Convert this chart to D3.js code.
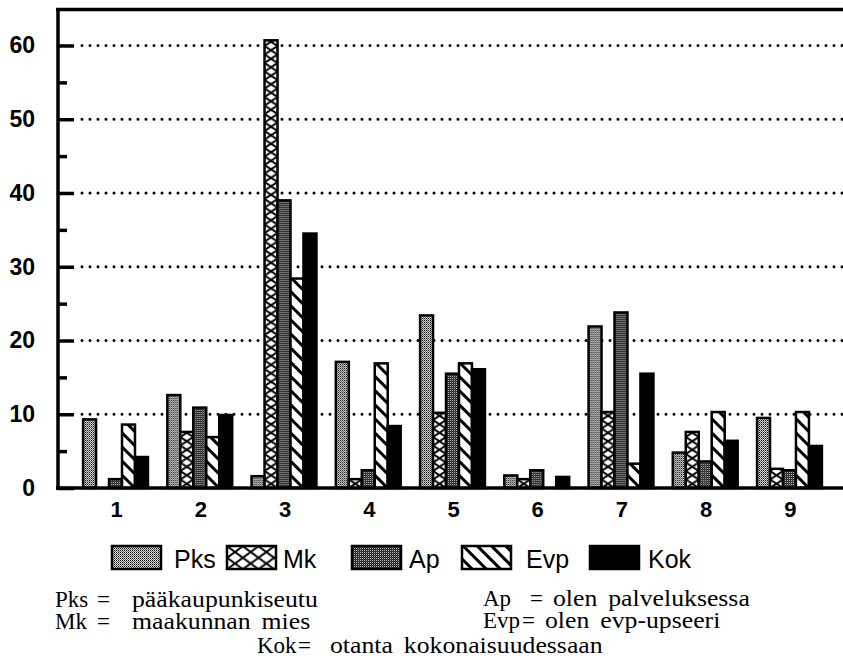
<!DOCTYPE html>
<html>
<head>
<meta charset="utf-8">
<script src="https://cdn.jsdelivr.net/npm/d3@7"></script>
<style>
  body { margin: 0; background: #fff; }
  svg { display: block; }
  .sans { font-family: 'Liberation Sans', Arial, sans-serif; fill: #000; }
  .serif { font-family: 'Liberation Serif', 'Times New Roman', serif; fill: #000; }
</style>
</head>
<body>
<script>
// data
const categories = ['1', '2', '3', '4', '5', '6', '7', '8', '9'];
const seriesNames = ['Pks', 'Mk', 'Ap', 'Evp', 'Kok'];
const pksValues = [9.3, 12.6, 1.6, 17.1, 23.4, 1.7, 21.9, 4.8, 9.5];
const mkValues = [0, 7.6, 60.7, 1.2, 10.2, 1.2, 10.3, 7.6, 2.6];
const apValues = [1.2, 10.9, 39.0, 2.4, 15.5, 2.4, 23.8, 3.6, 2.4];
const evpValues = [8.6, 6.9, 28.4, 16.9, 16.9, 0, 3.3, 10.3, 10.3];
const kokValues = [4.2, 9.9, 34.5, 8.4, 16.1, 1.5, 15.5, 6.4, 5.7];
const yTicks = [0, 10, 20, 30, 40, 50, 60];
const yMinorTicks = [5, 15, 25, 35, 45, 55];
const noteKeys = ['Pks', 'Mk', 'Ap', 'Evp', 'Kok'];
const noteTexts = ['pääkaupunkiseutu', 'maakunnan mies', 'olen palveluksessa',
  'olen evp-upseeri', 'otanta kokonaisuudessaan'];

const seriesValues = [pksValues, mkValues, apValues, evpValues, kokValues];

const W = 843;
const H = 665;

const svg = d3.select('body')
  .append('svg')
  .attr('width', W)
  .attr('height', H);

const defs = svg.append('defs');

const x = d3.scaleBand()
  .domain(categories)
  .range([73.4, 831.6])
  .paddingInner(0.23)
  .paddingOuter(0.115);

const xs = d3.scaleBand()
  .domain(seriesNames)
  .range([0, x.bandwidth()]);

const y = d3.scaleLinear()
  .domain([0, 65])
  .range([488, 8.6]);

// fill patterns
const stipple = (id, bg, c1, c2) => {
  const p = defs.append('pattern')
    .attr('id', id)
    .attr('patternUnits', 'userSpaceOnUse')
    .attr('width', 2)
    .attr('height', 2);
  p.append('rect').attr('width', 2).attr('height', 2).attr('fill', bg);
  p.append('rect').attr('width', 1).attr('height', 1).attr('fill', c1);
  p.append('rect').attr('x', 1).attr('y', 1).attr('width', 1).attr('height', 1).attr('fill', c2);
};
stipple('pat-pks', '#ddd', '#000', '#666');
stipple('pat-ap', '#222', '#bbb', '#444');

const crossHatch = (id, x0, y0, w, h) => {
  const p = defs.append('pattern')
    .attr('id', id)
    .attr('patternUnits', 'userSpaceOnUse')
    .attr('x', x0)
    .attr('y', y0)
    .attr('width', w)
    .attr('height', h);
  p.append('rect').attr('width', w).attr('height', h).attr('fill', '#fff');
  p.append('path')
    .attr('d', `M0,0L${w},${h}M${w},0L0,${h}`)
    .attr('stroke', '#000')
    .attr('stroke-width', 2);
};
crossHatch('pat-mk', xs('Mk'), y(0), xs.bandwidth(), 8.5);
crossHatch('pat-mk-legend', 0, 0, 47 / 3, 11.5);

const evp = defs.append('pattern')
  .attr('id', 'pat-evp')
  .attr('patternUnits', 'userSpaceOnUse')
  .attr('width', 10)
  .attr('height', 10)
  .attr('patternTransform', 'rotate(-45)');
evp.append('rect').attr('width', 10).attr('height', 10).attr('fill', '#fff');
evp.append('rect').attr('width', 3).attr('height', 10).attr('fill', '#000');

const fills = {
  Pks: 'url(#pat-pks)', Mk: 'url(#pat-mk)', Ap: 'url(#pat-ap)', Evp: 'url(#pat-evp)', Kok: '#000',
};

// dotted grid
svg.append('g')
  .selectAll('line')
  .data(yTicks.filter((d) => d > 0))
  .join('line')
  .attr('x1', 82)
  .attr('x2', W)
  .attr('y1', (d) => y(d))
  .attr('y2', (d) => y(d))
  .attr('stroke', '#000')
  .attr('stroke-width', 3)
  .attr('stroke-linecap', 'round')
  .attr('stroke-dasharray', '0,8');

// bars
const rows = categories.map((c, i) => ({
  cat: c,
  values: seriesNames.map((s, k) => ({ s, v: seriesValues[k][i] })),
}));

const groups = svg.append('g')
  .selectAll('g')
  .data(rows)
  .join('g')
  .attr('transform', (d) => `translate(${x(d.cat)},0)`);

groups.selectAll('rect')
  .data((d) => d.values.filter((e) => e.v > 0))
  .join('rect')
  .attr('x', (d) => xs(d.s))
  .attr('y', (d) => y(d.v))
  .attr('width', xs.bandwidth())
  .attr('height', (d) => y(0) - y(d.v))
  .attr('fill', (d) => fills[d.s])
  .attr('stroke', '#000')
  .attr('stroke-width', 2.5);

// frame lines
const frame = svg.append('g').attr('stroke', '#000').attr('stroke-width', 3.5);
frame.append('line').attr('x1', 58).attr('x2', 58).attr('y1', 8).attr('y2', 490);
frame.append('line').attr('x1', 56).attr('x2', W).attr('y1', 9.5).attr('y2', 9.5);
frame.append('line').attr('x1', 56).attr('x2', W).attr('y1', y(0)).attr('y2', y(0));

// y axis, ticks pointing inward
const yAxis = svg.append('g')
  .attr('transform', 'translate(58,0)')
  .call(d3.axisLeft(y).tickValues(yTicks).tickSizeInner(-16).tickSizeOuter(0).tickPadding(23));
yAxis.select('.domain').remove();
yAxis.selectAll('line').attr('stroke-width', 3.5);
yAxis.selectAll('text')
  .attr('class', 'sans')
  .style('font-size', '23px')
  .style('font-weight', 'bold');

const yMinor = svg.append('g')
  .attr('transform', 'translate(58,0)')
  .call(d3.axisLeft(y).tickValues(yMinorTicks).tickSizeInner(-9).tickSizeOuter(0).tickFormat(''));
yMinor.select('.domain').remove();
yMinor.selectAll('line').attr('stroke-width', 3.5);

// x axis labels
const xAxis = svg.append('g')
  .attr('transform', `translate(1,${y(0)})`)
  .call(d3.axisBottom(x).tickSize(0).tickPadding(13));
xAxis.select('.domain').remove();
xAxis.selectAll('text')
  .attr('class', 'sans')
  .style('font-size', '22px')
  .style('font-weight', 'bold');

// legend
const legendPos = [
  { sx: 112, tx: 174 }, { sx: 227, tx: 283 }, { sx: 352, tx: 409 },
  { sx: 462, tx: 526 }, { sx: 590, tx: 648 },
];
const legend = svg.append('g')
  .selectAll('g')
  .data(seriesNames)
  .join('g');

legend.append('rect')
  .attr('x', (d, i) => legendPos[i].sx)
  .attr('y', 546)
  .attr('width', 49)
  .attr('height', 23)
  .attr('fill', (d) => (d === 'Mk' ? 'url(#pat-mk-legend)' : fills[d]))
  .attr('stroke', '#000')
  .attr('stroke-width', 2.5);

legend.append('text')
  .attr('class', 'sans')
  .attr('x', (d, i) => legendPos[i].tx)
  .attr('y', 568)
  .style('font-size', '25px')
  .text((d) => d);

// abbreviations below the legend
const notePos = [
  { x: 55, eq: 97, tx: 132, y: 607 },
  { x: 55, eq: 97, tx: 132, y: 629 },
  { x: 483, eq: 530, tx: 553, y: 606 },
  { x: 483, eq: 522, tx: 545, y: 628 },
  { x: 257, eq: 298, tx: 330, y: 653 },
];
const notes = svg.append('g')
  .selectAll('g')
  .data(noteKeys)
  .join('g')
  .attr('class', 'serif')
  .style('font-size', '23px');

notes.append('text')
  .attr('x', (d, i) => notePos[i].x)
  .attr('y', (d, i) => notePos[i].y)
  .text((d) => d);
notes.append('text')
  .attr('x', (d, i) => notePos[i].eq)
  .attr('y', (d, i) => notePos[i].y)
  .text('=');
notes.append('text')
  .attr('transform', (d, i) => `translate(${notePos[i].tx},${notePos[i].y}) scale(1.12,1)`)
  .attr('word-spacing', '4px')
  .text((d, i) => noteTexts[i]);
</script>
</body>
</html>
